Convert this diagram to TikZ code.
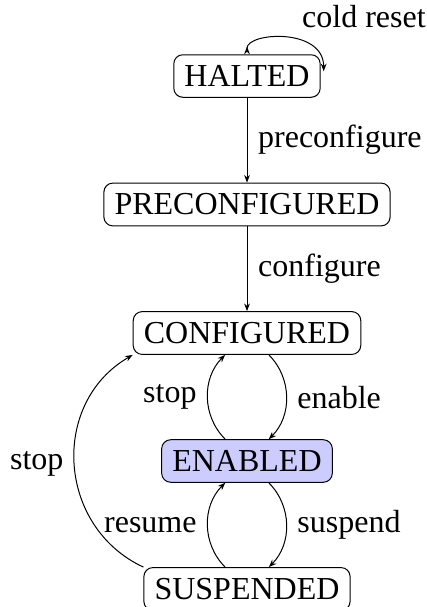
\documentclass[tikz,border=0pt]{standalone}
\usepackage{fontspec}
\setmainfont{Liberation Serif}
\usetikzlibrary{arrows.meta,calc}

\tikzset{
  state/.style={draw, rounded corners=4.5pt, inner sep=5.33pt, line width=0.5pt},
  active/.style={state, fill=blue!20},
  trans/.style={line width=0.5pt, -{Stealth[length=3.8pt,width=2.9pt]}},
  lbl/.style={inner sep=5.33pt},
  every node/.style={font=\fontsize{16}{19}\selectfont}
}

\begin{document}
\begin{tikzpicture}[x=0.5pt,y=0.5pt]
  \useasboundingbox (0,0) rectangle (427,-607);

  % states
  \node[state]  (HALTED)        at (247,-76)    {HALTED};
  \node[state]  (PRECONFIGURED) at (247,-204.5) {PRECONFIGURED};
  \node[state]  (CONFIGURED)    at (247,-333)   {CONFIGURED};
  \node[active] (ENABLED)       at (247,-461)   {ENABLED};
  \node[state]  (SUSPENDED)     at (247,-589)   {SUSPENDED};

  % self transition on HALTED
  \coordinate (loopend) at ($(HALTED.north east)+(3,-17)$);
  \draw[line width=0.5pt, {Stealth[reversed,length=3.8pt,width=2.9pt]}-{Stealth[length=3.8pt,width=2.9pt]}]
    (HALTED.north) .. controls ($(HALTED.north)+(0,22)$) and ($(loopend)+(0,44)$) .. (loopend)
    node[lbl, pos=0.55, above right] {cold reset};

  % linear setup path
  \draw[trans] (HALTED) -- node[lbl, right] {preconfigure} (PRECONFIGURED);
  \draw[trans] (PRECONFIGURED) -- node[lbl, right] {configure} (CONFIGURED);

  % enable / stop
  \draw[trans] (CONFIGURED) to[bend left=45] node[lbl, right] {enable} (ENABLED);
  \draw[trans] (ENABLED) to[bend left=45] node[lbl, left] {stop} (CONFIGURED);

  % suspend / resume
  \draw[trans] (ENABLED) to[bend left=45] node[lbl, right] {suspend} (SUSPENDED);
  \draw[trans] (SUSPENDED) to[bend left=45] node[lbl, left] {resume} (ENABLED);

  % stop from suspended
  \draw[trans] (SUSPENDED.north west) to[out=155, in=210, looseness=1.15]
    node[lbl, left] {stop} (CONFIGURED.south west);
\end{tikzpicture}
\end{document}
